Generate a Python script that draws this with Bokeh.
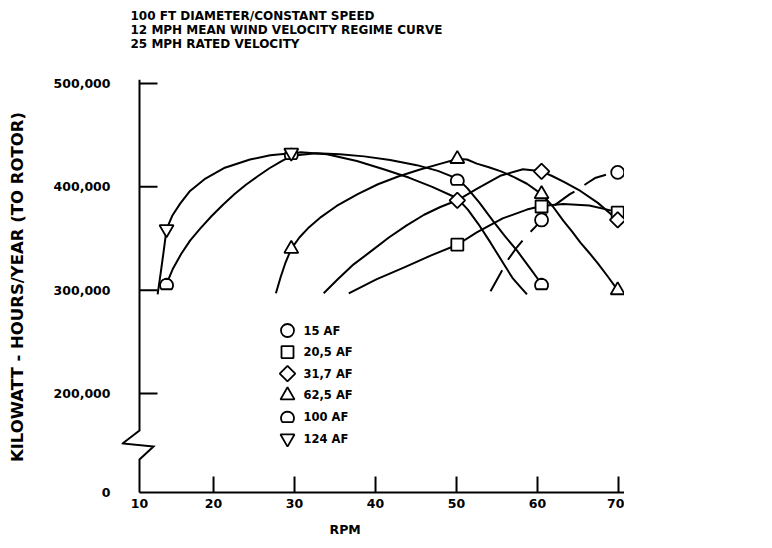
import math
from bokeh.plotting import figure
from bokeh.models import Range1d, FixedTicker, NumeralTickFormatter, Title
from bokeh.core.properties import value
from bokeh.embed import file_html
from bokeh.resources import INLINE

# ---------------- text ----------------
TITLE_LINES = ["100 FT DIAMETER/CONSTANT SPEED",
               "12 MPH MEAN WIND VELOCITY REGIME CURVE",
               "25 MPH RATED VELOCITY"]
X_LABEL = "RPM"
Y_LABEL = "KILOWATT - HOURS/YEAR (TO ROTOR)"

# ---------------- axes ----------------
X_ORIGIN = 10.86           # where the drawn x axis starts (labelled "10")
X_ORIGIN_LABEL = "10"
X_TICKS = [20, 30, 40, 50, 60, 70]
X_END = 70.74
Y_FLOOR = 104200           # bottom of the broken y axis (labelled "0")
Y_FLOOR_LABEL = "0"
Y_TICKS = [200000, 300000, 400000, 500000]
Y_TOP = 503900

# ---------------- series ----------------
SERIES = ["15 AF", "20,5 AF", "31,7 AF", "62,5 AF", "100 AF", "124 AF"]
MARKERS = ["circle", "square", "diamond", "triangle", "dome", "inverted_triangle"]
DASHES = ["24 12", "solid", "solid", "solid", "solid", "solid"]

# plotted points (RPM, kWh/yr)
af15_rpm = [60.5, 69.9]
af15_kwh = [368000, 414000]
af20_rpm = [50.1, 60.5, 69.9]
af20_kwh = [344000, 381000, 375000]
af31_rpm = [50.1, 60.5, 69.9]
af31_kwh = [387000, 415000, 368000]
af62_rpm = [29.6, 50.1, 60.5, 69.9]
af62_kwh = [340000, 427000, 393000, 300000]
af100_rpm = [14.2, 29.6, 50.1, 60.5]
af100_kwh = [306000, 432000, 407000, 306000]
af124_rpm = [14.2, 29.6]
af124_kwh = [359000, 433000]

# faired curves
c15_rpm = [54.2, 55.4, 56.4, 57.5, 58.6, 59.7, 60.5, 61.9, 64, 64.9, 66.2, 67.1, 68.6, 69.9]
c15_kwh = [299000, 316000, 330000, 342000, 352000, 361000, 368000, 381000, 393000, 397000,
           404000, 408500, 412000, 414000]
c20_rpm = [36.7, 40.1, 43.55, 46.8, 50.1, 52.5, 55.7, 58.7, 60.5, 63.2, 66.4, 69.15, 69.9]
c20_kwh = [297000, 310500, 322000, 333500, 344000, 356000, 369500, 378000, 381500, 383500,
           382000, 377000, 375000]
c31_rpm = [33.6, 35.4, 37.3, 39.5, 41.65, 43.8, 46, 48, 50.1, 52.5, 55.5, 58.2, 60.5, 61.8,
           63.2, 65.3, 67.45, 69.15, 69.9]
c31_kwh = [297000, 311000, 325000, 338000, 351000, 362500, 373000, 380500, 387000, 398000,
           411000, 417000, 415000, 410500, 405000, 396000, 384500, 373000, 368000]
c62_rpm = [27.7, 28.3, 28.9, 29.6, 30.6, 31.8, 33.3, 35.2, 37.8, 40.3, 42.8, 45.4, 47.85, 50.1,
           51.3, 52.5, 54, 55.5, 57.1, 58.7, 60.5, 61.9, 63.2, 64.3, 65.3, 66.4, 67.45, 68.7, 69.9]
c62_kwh = [297000, 313000, 327000, 340000, 351000, 361000, 371000, 381500, 393000, 402500,
           410000, 416500, 422000, 427000, 426500, 422500, 419000, 415000, 409500, 403000,
           393000, 381000, 367000, 356500, 346000, 336000, 326000, 313000, 300000]
c100_rpm = [14.2, 15.0, 16.0, 17.1, 18.4, 19.8, 21.2, 22.6, 24.0, 25.5, 26.9, 28.3, 29.6, 32.7,
            35.6, 38.6, 41.8, 45.1, 47.7, 50.1, 51.3, 52.8, 54.5, 56, 57.5, 59, 60.5]
c100_kwh = [306000, 321000, 335000, 348000, 360000, 372000, 383000, 393000, 402000, 410500,
            418000, 424500, 430000, 432500, 431500, 429500, 426000, 421000, 415500, 408000,
            399000, 385000, 367000, 352000, 338000, 322000, 306000]
c124_rpm = [13.1, 13.5, 13.85, 14.2, 14.9, 15.9, 17.1, 19.0, 21.4, 24.5, 27.0, 29.6, 30.8, 34.0,
            37.7, 41.0, 44.1, 47.0, 50.1, 51.4, 52.7, 54.2, 55.7, 56.9, 57.9, 58.7]
c124_kwh = [296000, 318000, 338000, 359000, 372000, 384000, 396000, 408000, 418500, 426500,
            430500, 432500, 433500, 431500, 425000, 417000, 409000, 400000, 389000, 378000,
            364000, 346000, 327000, 312000, 303000, 296000]

POINTS = [(af15_rpm, af15_kwh), (af20_rpm, af20_kwh), (af31_rpm, af31_kwh),
          (af62_rpm, af62_kwh), (af100_rpm, af100_kwh), (af124_rpm, af124_kwh)]
CURVES = [(c15_rpm, c15_kwh), (c20_rpm, c20_kwh), (c31_rpm, c31_kwh),
          (c62_rpm, c62_kwh), (c100_rpm, c100_kwh), (c124_rpm, c124_kwh)]

# ---------------- layout ----------------
PLOT_W, PLOT_H = 485, 413      # pixel size of the drawn axes box
PAD_LEFT, PAD_BOTTOM = 18, 2   # room inside the frame for the axis-break symbol
FONT = "DejaVu Sans"
INK = "black"

XPX = PLOT_W / (X_END - X_ORIGIN)
YPX = PLOT_H / (Y_TOP - Y_FLOOR)

def dx(px):
    return px / XPX

def dy(px):
    return px / YPX

X_LEFT = X_ORIGIN - dx(PAD_LEFT)
Y_LOW = Y_FLOOR - dy(PAD_BOTTOM)

p = figure(frame_width=PLOT_W + PAD_LEFT, frame_height=PLOT_H + PAD_BOTTOM, title=None,
           x_range=Range1d(X_LEFT, X_END), y_range=Range1d(Y_LOW, Y_TOP),
           min_border_left=139 - PAD_LEFT, min_border_right=0, min_border_top=79,
           min_border_bottom=0, output_backend="svg", toolbar_location=None,
           background_fill_color="white", border_fill_color="white")
p.outline_line_color = None
p.xgrid.visible = False
p.ygrid.visible = False

# title block: a spacer panel next to the frame, then the three title lines
p.add_layout(Title(text=" ", text_font_size="1px", standoff=20), "above")
p.add_layout(Title(text="\n".join(TITLE_LINES), align="left", offset=130 - (139 - PAD_LEFT),
                   standoff=12, vertical_align="bottom", text_font=FONT, text_font_size="12px",
                   text_font_style="bold", text_color=INK, text_line_height=1.0), "above")

# x axis: Bokeh supplies the tick labels, the axis line and ticks are drawn below
xa = p.xaxis[0]
xa.ticker = FixedTicker(ticks=[X_ORIGIN] + X_TICKS)
xa.major_label_overrides = {X_ORIGIN: X_ORIGIN_LABEL}
xa.axis_line_color = None
xa.major_tick_line_color = None
xa.minor_tick_line_color = None
xa.major_tick_in = 0
xa.major_tick_out = 0
xa.minor_tick_in = 0
xa.minor_tick_out = 0
xa.major_label_standoff = 6 - PAD_BOTTOM
xa.major_label_text_font = FONT
xa.major_label_text_font_size = "12.5px"
xa.major_label_text_font_style = "bold"
xa.major_label_text_color = INK

p.add_layout(Title(text=X_LABEL, align="left", offset=190 + PAD_LEFT, standoff=17.5,
                   vertical_align="bottom", text_font=FONT, text_font_size="12.5px",
                   text_font_style="bold", text_color=INK), "below")

# y axis: Bokeh supplies the tick labels and the title
ya = p.yaxis[0]
ya.ticker = FixedTicker(ticks=[Y_FLOOR] + Y_TICKS)
ya.formatter = NumeralTickFormatter(format="0,0")
ya.major_label_overrides = {Y_FLOOR: Y_FLOOR_LABEL}
ya.axis_line_color = None
ya.major_tick_line_color = None
ya.minor_tick_line_color = None
ya.major_tick_in = 0
ya.major_tick_out = 0
ya.minor_tick_in = 0
ya.minor_tick_out = 0
ya.major_label_standoff = 29 - PAD_LEFT
ya.major_label_text_font = FONT
ya.major_label_text_font_size = "12.5px"
ya.major_label_text_font_style = "bold"
ya.major_label_text_color = INK
ya.axis_label = Y_LABEL
ya.axis_label_standoff = 24
ya.axis_label_text_font = FONT
ya.axis_label_text_font_size = "16.5px"
ya.axis_label_text_font_style = "bold"
ya.axis_label_text_color = INK

# axis lines: y axis with the zig-zag break, x axis along the floor
brk_hi = Y_FLOOR + dy(62)
yax_x = [X_ORIGIN, X_ORIGIN, X_ORIGIN - dx(17), X_ORIGIN + dx(14), X_ORIGIN, X_ORIGIN]
yax_y = [Y_TOP, brk_hi, brk_hi - dy(13), brk_hi - dy(16), brk_hi - dy(29), Y_FLOOR]
p.line(yax_x, yax_y, line_color=INK, line_width=2, line_join="miter")
p.line([X_ORIGIN, X_END], [Y_FLOOR, Y_FLOOR], line_color=INK, line_width=2)

# tick marks (pointing into the plot)
p.segment(x0=[X_ORIGIN] * len(Y_TICKS), x1=[X_ORIGIN + dx(18)] * len(Y_TICKS),
          y0=Y_TICKS, y1=Y_TICKS, line_color=INK, line_width=2)
p.segment(x0=X_TICKS, x1=X_TICKS, y0=[Y_FLOOR] * len(X_TICKS),
          y1=[Y_FLOOR + dy(16)] * len(X_TICKS), line_color=INK, line_width=2)

# curves
for (cx, cy), dash in zip(CURVES, DASHES):
    p.line(cx, cy, line_color=INK, line_width=2, line_dash=dash, line_join="round")

# dome-shaped marker outline (pixel offsets)
DOME = []
for k in range(0, 17):
    a = math.radians(-38 + k * 16)
    DOME.append((6.5 * math.cos(a), -1.25 + 6.5 * math.sin(a)))

def draw_markers(kind, mx, my):
    if kind == "dome":
        pxs = [[x + dx(ox) for ox, oy in DOME] for x in mx]
        pys = [[y + dy(oy) for ox, oy in DOME] for y in my]
        p.patches(pxs, pys, fill_color="white", line_color=INK, line_width=1.8)
    elif kind == "diamond":
        p.scatter(mx, my, marker="square", angle=math.pi / 4, size=11,
                  fill_color="white", line_color=INK, line_width=1.8)
    else:
        size = {"circle": 13, "square": 12, "triangle": 14, "inverted_triangle": 14}[kind]
        p.scatter(mx, my, marker=kind, size=size,
                  fill_color="white", line_color=INK, line_width=1.8)

for (mx, my), kind in zip(POINTS, MARKERS):
    draw_markers(kind, mx, my)

# legend block (hand-placed like the original)
LEG_LEFT_PX, LEG_TOP_PX, LEG_ROW_PX, LEG_TEXT_PX = 148, 251, 21.6, 164
leg_x = X_ORIGIN + dx(LEG_LEFT_PX)
txt_x = X_ORIGIN + dx(LEG_TEXT_PX)
leg_y = [Y_TOP - dy(LEG_TOP_PX + i * LEG_ROW_PX) for i in range(len(SERIES))]
for i, kind in enumerate(MARKERS):
    draw_markers(kind, [leg_x], [leg_y[i]])
p.text([txt_x] * len(SERIES), leg_y, text=SERIES, text_font=value(FONT),
       text_font_size="11.5px", text_font_style="bold", text_color=INK,
       text_align="left", text_baseline="middle")

open("out.html", "w").write(file_html(p, INLINE))
